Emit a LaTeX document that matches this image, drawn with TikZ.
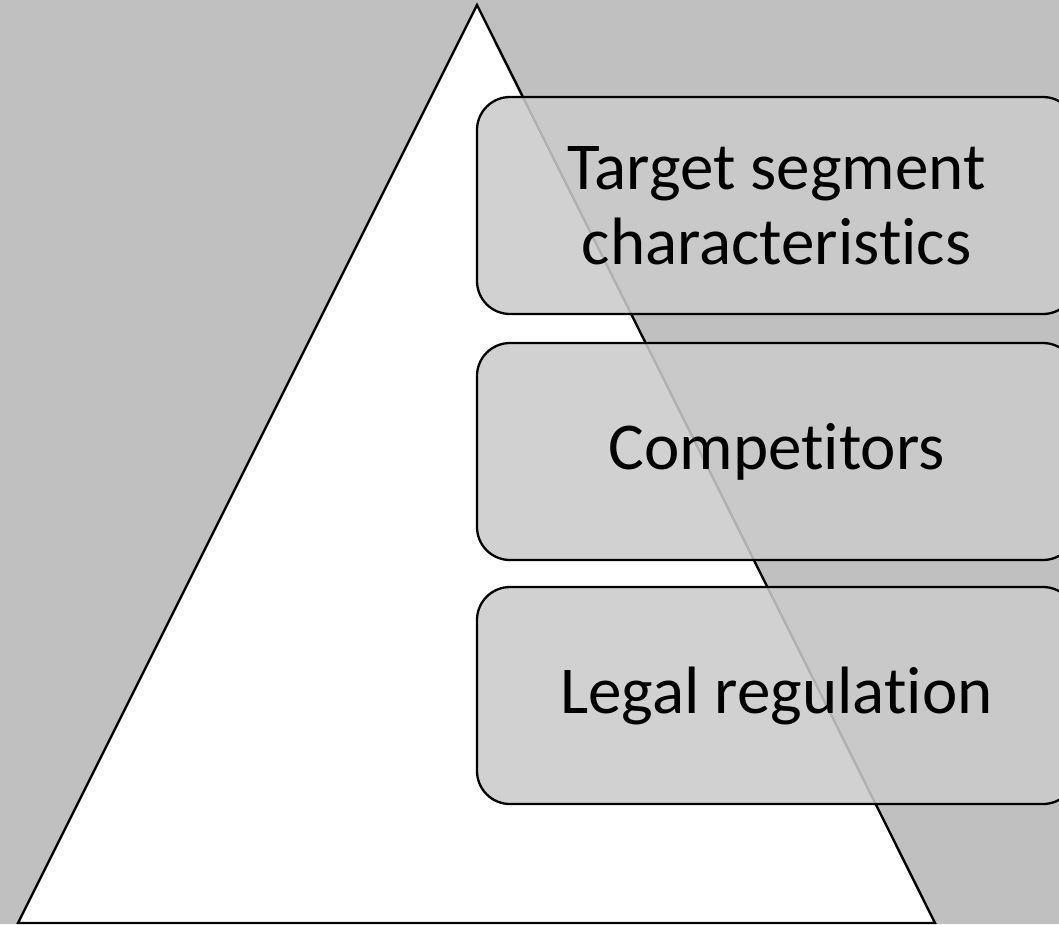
\documentclass[tikz,border=0pt]{standalone}
\usepackage{fontspec}
\setmainfont{Carlito}[Ligatures={NoCommon}]
\definecolor{bg}{gray}{0.753}
\definecolor{boxfill}{RGB}{203,203,203}
\begin{document}
\begin{tikzpicture}[x=1pt,y=-1pt,
  tier/.style={draw=black, line width=2.3pt, rounded corners=33pt,
    fill=boxfill, fill opacity=0.87, text opacity=1,
    minimum width=599pt, minimum height=217pt, inner sep=0pt,
    align=center, font=\fontsize{67}{75}\selectfont},
  pyramid/.style={draw=black, line width=2.4pt, fill=white, line join=miter}]
  % canvas
  \clip (0,0) rectangle (1059,924);
  \fill[bg] (0,0) rectangle (1059,924);
  % pyramid
  \coordinate (apex) at (477,5);
  \coordinate (bl) at (18,923);
  \coordinate (br) at (935,923);
  \draw[pyramid] (bl) -- (apex) -- (br) -- cycle;
  % tiers
  \node[tier] (target) at (776.5,205.5) {Target segment\\characteristics};
  \node[tier] (comp) at (776.5,451.5) {Competitors};
  \node[tier] (legal) at (776.5,695.5) {Legal regulation};
\end{tikzpicture}
\end{document}
